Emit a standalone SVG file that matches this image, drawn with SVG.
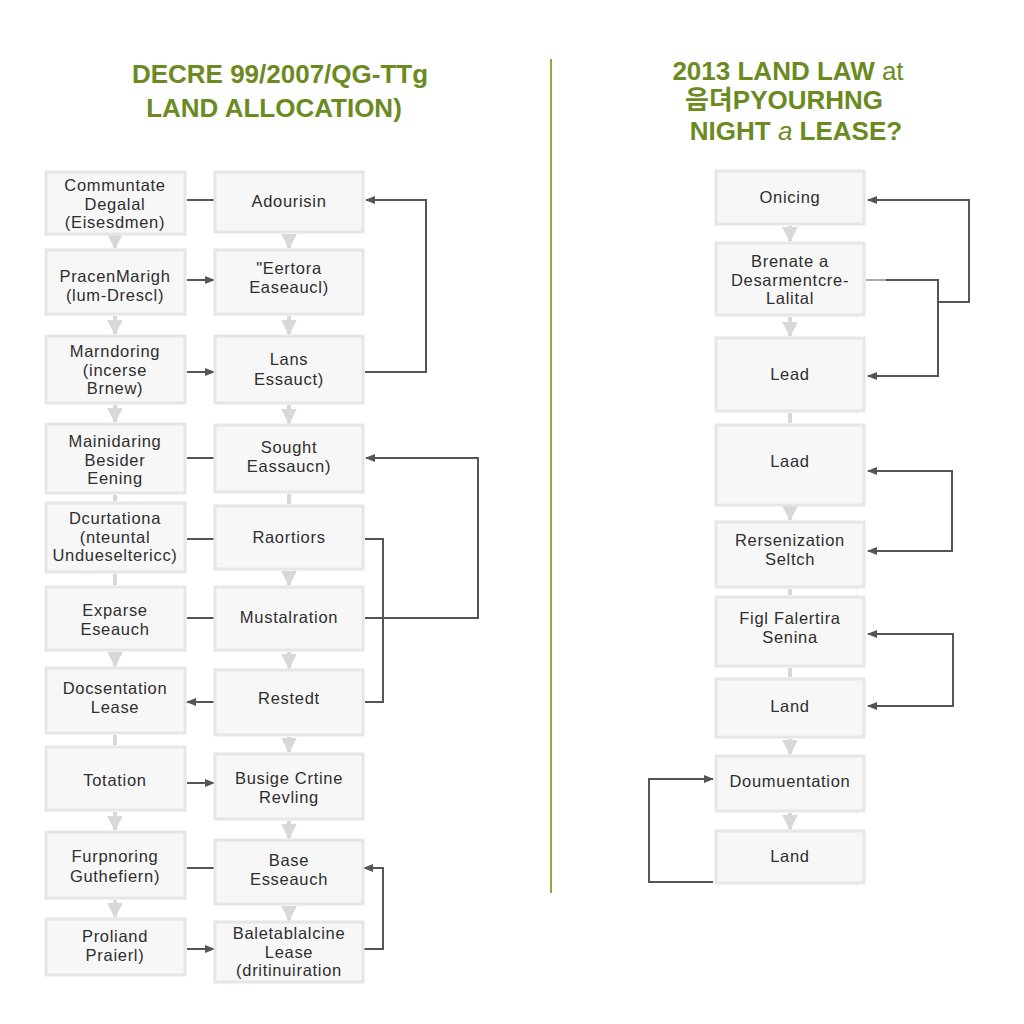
<svg xmlns="http://www.w3.org/2000/svg" width="1024" height="1024" viewBox="0 0 1024 1024">
<style>
.bg{fill:#ffffff}
.box{fill:#f7f7f7;stroke:#e6e6e6;stroke-width:3}
.t{font-family:"Liberation Sans",Arial,sans-serif;font-size:16.5px;letter-spacing:0.7px;fill:#2e2e2e;text-anchor:middle}
.title{font-family:"Liberation Sans",Arial,"Noto Sans CJK KR",sans-serif;font-size:26px;font-weight:bold;fill:#6b8a1f;text-anchor:middle}
.c{fill:none;stroke:#555555;stroke-width:2}
.v{fill:none;stroke:#d8d8d8;stroke-width:4}
</style>
<defs>
<marker id="ah" viewBox="0 0 10 10" refX="9" refY="5" markerWidth="10" markerHeight="10" markerUnits="userSpaceOnUse" orient="auto">
<path d="M0,1 L10,5 L0,9 Z" fill="#555555"/>
</marker>
<marker id="gh" viewBox="0 0 10 10" refX="9" refY="5" markerWidth="4" markerHeight="4" orient="auto">
<path d="M0,0 L10,5 L0,10 Z" fill="#d8d8d8"/>
</marker>
</defs>
<rect class="bg" x="0" y="0" width="1024" height="1024"/>

<g id="titles">
<text class="title" x="280" y="83">DECRE 99/2007/QG-TTg</text>
<text class="title" x="274" y="117">LAND ALLOCATION)</text>
<text class="title" x="788" y="80">2013 LAND LAW <tspan font-weight="normal">at</tspan></text>
<text class="title" x="784" y="109">음뎌PYOURHNG</text>
<text class="title" x="796" y="140">NIGHT <tspan font-weight="normal" font-style="italic">a</tspan> LEASE?</text>
<line x1="551" y1="59" x2="551" y2="893" stroke="#8fab3c" stroke-width="2"/>
</g>

<g id="connectors">
<path class="v" d="M115,236 V248" marker-end="url(#gh)"/>
<path class="v" d="M115,316 V334" marker-end="url(#gh)"/>
<path class="v" d="M115,405 V422" marker-end="url(#gh)"/>
<path class="v" d="M115,495 V501"/>
<path class="v" d="M115,574 V585"/>
<path class="v" d="M115,652 V666" marker-end="url(#gh)"/>
<path class="v" d="M115,735 V745"/>
<path class="v" d="M115,812 V830" marker-end="url(#gh)"/>
<path class="v" d="M115,900 V917" marker-end="url(#gh)"/>
<path class="v" d="M289,234 V248" marker-end="url(#gh)"/>
<path class="v" d="M289,316 V334" marker-end="url(#gh)"/>
<path class="v" d="M289,405 V423" marker-end="url(#gh)"/>
<path class="v" d="M289,494 V504"/>
<path class="v" d="M289,571 V585" marker-end="url(#gh)"/>
<path class="v" d="M289,652 V668" marker-end="url(#gh)"/>
<path class="v" d="M289,737 V752" marker-end="url(#gh)"/>
<path class="v" d="M289,821 V838" marker-end="url(#gh)"/>
<path class="v" d="M289,906 V920" marker-end="url(#gh)"/>
<path class="v" d="M790,226 V241" marker-end="url(#gh)"/>
<path class="v" d="M790,317 V336" marker-end="url(#gh)"/>
<path class="v" d="M790,413 V423"/>
<path class="v" d="M790,507 V520" marker-end="url(#gh)"/>
<path class="v" d="M790,589 V595"/>
<path class="v" d="M790,668 V677"/>
<path class="v" d="M790,739 V754" marker-end="url(#gh)"/>
<path class="v" d="M790,813 V829" marker-end="url(#gh)"/>

<path class="c" d="M187,200 H214"/>
<path class="c" d="M187,280 H214" marker-end="url(#ah)"/>
<path class="c" d="M187,372 H214" marker-end="url(#ah)"/>
<path class="c" d="M187,458 H214"/>
<path class="c" d="M187,539 H214"/>
<path class="c" d="M187,618 H214"/>
<path class="c" d="M214,702 H187" marker-end="url(#ah)"/>
<path class="c" d="M187,783 H214" marker-end="url(#ah)"/>
<path class="c" d="M187,868 H214"/>
<path class="c" d="M187,949 H214" marker-end="url(#ah)"/>

<path class="c" d="M365,372 H426 V200 H366" marker-end="url(#ah)"/>
<path class="c" d="M365,618 H478 V458 H366" marker-end="url(#ah)"/>
<path class="c" d="M365,539 H383 V702 H365"/>
<path class="c" d="M364,949 H383 V868 H364" marker-end="url(#ah)"/>

<path d="M866,280 H886" stroke="#aaaaaa" stroke-width="2" fill="none"/>
<path class="c" d="M886,280 H938 V376 H868" marker-end="url(#ah)"/>
<path class="c" d="M938,302 H969 V200 H868" marker-end="url(#ah)"/>
<path class="c" d="M952,511 V471 H868" marker-end="url(#ah)"/>
<path class="c" d="M952,511 V551 H868" marker-end="url(#ah)"/>
<path class="c" d="M953,670 V634 H868" marker-end="url(#ah)"/>
<path class="c" d="M953,670 V706 H868" marker-end="url(#ah)"/>
<path class="c" d="M713,882 H649 V779 H713" marker-end="url(#ah)"/>
</g>

<g id="L1"><rect class="box" x="46" y="172" width="139" height="62"/>
<text class="t" x="115" y="191">Communtate</text><text class="t" x="115" y="209.5">Degalal</text><text class="t" x="115" y="228">(Eisesdmen)</text></g>
<g id="L2"><rect class="box" x="46" y="250" width="139" height="64"/>
<text class="t" x="115" y="282">PracenMarigh</text><text class="t" x="115" y="301">(lum-Drescl)</text></g>
<g id="L3"><rect class="box" x="46" y="336" width="139" height="67"/>
<text class="t" x="115" y="357">Marndoring</text><text class="t" x="115" y="375.5">(incerse</text><text class="t" x="115" y="394">Brnew)</text></g>
<g id="L4"><rect class="box" x="46" y="424" width="139" height="69"/>
<text class="t" x="115" y="447">Mainidaring</text><text class="t" x="115" y="465.5">Besider</text><text class="t" x="115" y="484">Eening</text></g>
<g id="L5"><rect class="box" x="46" y="503" width="139" height="69"/>
<text class="t" x="115" y="524">Dcurtationa</text><text class="t" x="115" y="542.5">(nteuntal</text><text class="t" x="115" y="561">Undueseltericc)</text></g>
<g id="L6"><rect class="box" x="46" y="587" width="139" height="63"/>
<text class="t" x="115" y="616">Exparse</text><text class="t" x="115" y="635">Eseauch</text></g>
<g id="L7"><rect class="box" x="46" y="668" width="139" height="65"/>
<text class="t" x="115" y="694">Docsentation</text><text class="t" x="115" y="713">Lease</text></g>
<g id="L8"><rect class="box" x="46" y="747" width="139" height="63"/>
<text class="t" x="115" y="786">Totation</text></g>
<g id="L9"><rect class="box" x="46" y="832" width="139" height="66"/>
<text class="t" x="115" y="862">Furpnoring</text><text class="t" x="115" y="882">Guthefiern)</text></g>
<g id="L10"><rect class="box" x="46" y="919" width="139" height="56"/>
<text class="t" x="115" y="942">Proliand</text><text class="t" x="115" y="961">Praierl)</text></g>

<g id="M1"><rect class="box" x="215" y="172" width="148" height="60"/>
<text class="t" x="289" y="207">Adourisin</text></g>
<g id="M2"><rect class="box" x="215" y="250" width="148" height="64"/>
<text class="t" x="289" y="274">"Eertora</text><text class="t" x="289" y="293">Easeaucl)</text></g>
<g id="M3"><rect class="box" x="215" y="336" width="148" height="67"/>
<text class="t" x="289" y="365">Lans</text><text class="t" x="289" y="385">Essauct)</text></g>
<g id="M4"><rect class="box" x="215" y="425" width="148" height="67"/>
<text class="t" x="289" y="453">Sought</text><text class="t" x="289" y="472">Eassaucn)</text></g>
<g id="M5"><rect class="box" x="215" y="506" width="148" height="63"/>
<text class="t" x="289" y="543">Raortiors</text></g>
<g id="M6"><rect class="box" x="215" y="587" width="148" height="63"/>
<text class="t" x="289" y="623">Mustalration</text></g>
<g id="M7"><rect class="box" x="215" y="670" width="148" height="65"/>
<text class="t" x="289" y="704">Restedt</text></g>
<g id="M8"><rect class="box" x="215" y="754" width="148" height="65"/>
<text class="t" x="289" y="784">Busige Crtine</text><text class="t" x="289" y="803">Revling</text></g>
<g id="M9"><rect class="box" x="215" y="840" width="148" height="64"/>
<text class="t" x="289" y="866">Base</text><text class="t" x="289" y="885">Esseauch</text></g>
<g id="M10"><rect class="box" x="215" y="922" width="148" height="60"/>
<text class="t" x="289" y="939">Baletablalcine</text><text class="t" x="289" y="957.5">Lease</text><text class="t" x="289" y="976">(dritinuiration</text></g>

<g id="R1"><rect class="box" x="716" y="171" width="148" height="53"/>
<text class="t" x="790" y="203">Onicing</text></g>
<g id="R2"><rect class="box" x="716" y="243" width="148" height="72"/>
<text class="t" x="790" y="267">Brenate a</text><text class="t" x="790" y="285.5">Desarmentcre-</text><text class="t" x="790" y="304">Lalital</text></g>
<g id="R3"><rect class="box" x="716" y="338" width="148" height="73"/>
<text class="t" x="790" y="380">Lead</text></g>
<g id="R4"><rect class="box" x="716" y="425" width="148" height="80"/>
<text class="t" x="790" y="467">Laad</text></g>
<g id="R5"><rect class="box" x="716" y="522" width="148" height="65"/>
<text class="t" x="790" y="546">Rersenization</text><text class="t" x="790" y="565">Seltch</text></g>
<g id="R6"><rect class="box" x="716" y="597" width="148" height="69"/>
<text class="t" x="790" y="624">Figl Falertira</text><text class="t" x="790" y="643">Senina</text></g>
<g id="R7"><rect class="box" x="716" y="679" width="148" height="58"/>
<text class="t" x="790" y="712">Land</text></g>
<g id="R8"><rect class="box" x="716" y="756" width="148" height="55"/>
<text class="t" x="790" y="787">Doumuentation</text></g>
<g id="R9"><rect class="box" x="716" y="831" width="148" height="52"/>
<text class="t" x="790" y="862">Land</text></g>
</svg>
